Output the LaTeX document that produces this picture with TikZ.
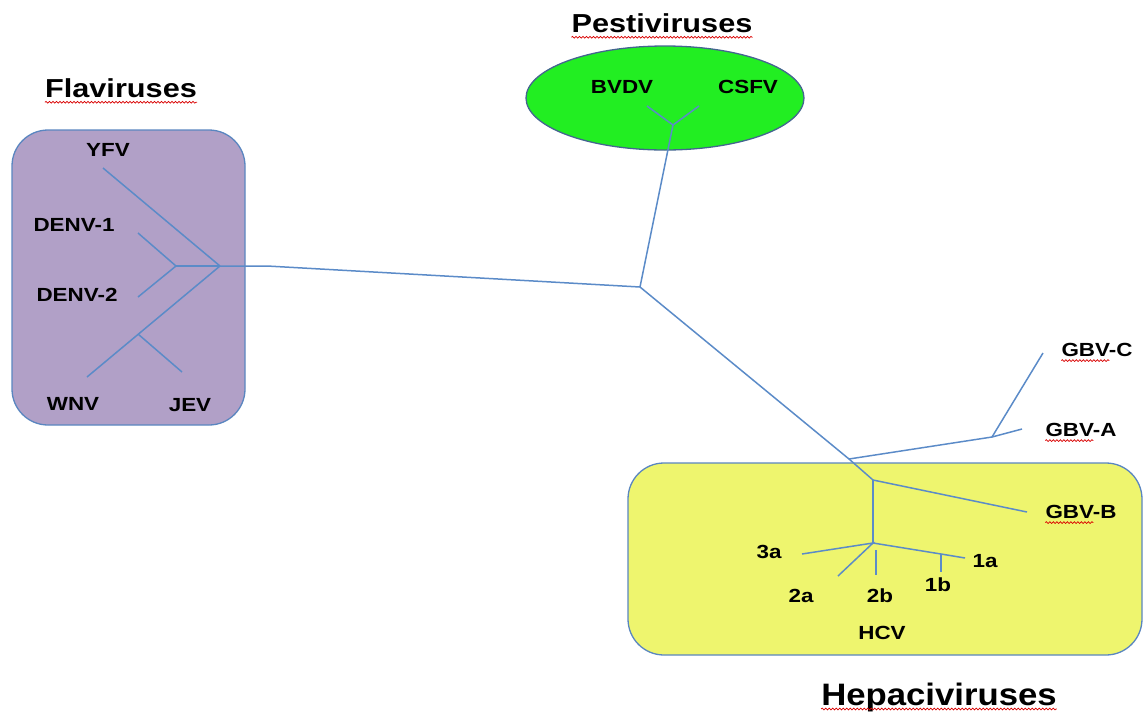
\documentclass[tikz,border=0pt]{standalone}
\usepackage{fontspec}
\usepackage{graphicx}
\setmainfont{Liberation Sans}
\usetikzlibrary{shapes.geometric,decorations.pathmorphing}
\definecolor{branch}{HTML}{5B8BC8}
\definecolor{boxline}{HTML}{5A86C0}
\definecolor{flavifill}{HTML}{B1A0C7}
\definecolor{pestifill}{HTML}{22EE22}
\definecolor{hepafill}{HTML}{EEF56E}
\newcommand{\wid}[1]{\scalebox{1.18}[1]{#1}}
\tikzset{
  br/.style={draw=branch, line width=1.5pt},
  lbl/.style={font=\fontsize{19}{20}\selectfont\bfseries, inner sep=0pt},
  ttl/.style={font=\fontsize{26}{28}\selectfont\bfseries, inner sep=0pt},
  wavy/.style={draw=red!85!black, line width=0.7pt, decorate, decoration={snake, amplitude=0.9pt, segment length=3.5pt}},
  grp/.style={draw=boxline, line width=1.3pt, rounded corners=36pt}
}
\begin{document}
\begin{tikzpicture}[x=1pt,y=-1pt]
\useasboundingbox (0,0) rectangle (1144,713);
% group shapes
\draw[grp, fill=flavifill] (12,130) rectangle (245,425);
\draw[grp, fill=hepafill] (628,463) rectangle (1142,655);
\node[ellipse, draw=boxline!75!black, line width=1.3pt, fill=pestifill, minimum width=278pt, minimum height=104pt, inner sep=0pt] (pesti) at (665,98) {};
% titles
\node[ttl] (tflavi) at (121,88) {\wid{Flaviruses}};
\node[ttl] (tpesti) at (662,23) {\wid{Pestiviruses}};
\node[ttl, font=\fontsize{31}{33}\selectfont\bfseries] (thepa) at (939,697) {\scalebox{1.12}[1]{Hepaciviruses}};
\draw[wavy] ([yshift=-5pt]tflavi.base west) -- ([yshift=-5pt]tflavi.base east);
\draw[wavy] ([yshift=-5pt]tpesti.base west) -- ([yshift=-5pt]tpesti.base east);
\draw[wavy] ([yshift=-4pt]thepa.base west) -- ([yshift=-4pt]thepa.base east);
% labels
\node[lbl] (YFV) at (108,150) {\wid{YFV}};
\node[lbl] (D1) at (74,225) {\wid{DENV-1}};
\node[lbl] (D2) at (77,295) {\wid{DENV-2}};
\node[lbl] (WNV) at (73,404) {\wid{WNV}};
\node[lbl] (JEV) at (190,405) {\wid{JEV}};
\node[lbl] (BVDV) at (622,87) {\wid{BVDV}};
\node[lbl] (CSFV) at (748,87) {\wid{CSFV}};
\node[lbl] (GBVC) at (1097,350) {\wid{GBV-C}};
\node[lbl] (GBVA) at (1081,430) {\wid{GBV-A}};
\node[lbl] (GBVB) at (1081,512) {\wid{GBV-B}};
\node[lbl] (l3a) at (769,552) {\wid{3a}};
\node[lbl] (l2a) at (801,596) {\wid{2a}};
\node[lbl] (l2b) at (880,596) {\wid{2b}};
\node[lbl] (l1b) at (938,585) {\wid{1b}};
\node[lbl] (l1a) at (985,561) {\wid{1a}};
\node[lbl] (HCV) at (882,633) {\wid{HCV}};
\draw[wavy] ([yshift=-4pt]GBVC.base west) -- ++(48,0);
\draw[wavy] ([yshift=-4pt]GBVA.base west) -- ++(48,0);
\draw[wavy] ([yshift=-4pt]GBVB.base west) -- ++(48,0);
% tree coordinates
\coordinate (fn) at (220,266);
\coordinate (fk) at (267,266);
\coordinate (dn) at (176,266);
\coordinate (tyfv) at (103,168);
\coordinate (td1) at (138,233);
\coordinate (td2) at (138,297);
\coordinate (twnv) at (87,377);
\coordinate (jn) at (138,334);
\coordinate (tjev) at (182,372);
\coordinate (c) at (640,287);
\coordinate (pn) at (673,125);
\coordinate (tbvdv) at (647,106);
\coordinate (tcsfv) at (699,106);
\coordinate (gj) at (849,459);
\coordinate (h) at (873,480);
\coordinate (tgbvb) at (1027,512);
\coordinate (gn) at (992,437);
\coordinate (tgbvc) at (1043,353);
\coordinate (tgbva) at (1022,429);
\coordinate (hn) at (873,543);
\coordinate (t3a) at (802,554);
\coordinate (t2a) at (838,576);
\coordinate (s2b) at (876,550);
\coordinate (t2b) at (876,575);
\coordinate (n1) at (941,554);
\coordinate (t1a) at (965,558);
\coordinate (t1b) at (941,572);
% branches
\draw[br] (tyfv) -- (fn);
\draw[br] (twnv) -- (fn);
\draw[br] (jn) -- (tjev);
\draw[br] (dn) -- (fn);
\draw[br] (td1) -- (dn) -- (td2);
\draw[br] (fn) -- (fk) -- (c);
\draw[br] (c) -- (pn);
\draw[br] (tbvdv) -- (pn) -- (tcsfv);
\draw[br] (c) -- (gj) -- (h) -- (tgbvb);
\draw[br] (gj) -- (gn) -- (tgbva);
\draw[br] (gn) -- (tgbvc);
\draw[br] (h) -- (hn);
\draw[br] (t3a) -- (hn) -- (t2a);
\draw[br] (s2b) -- (t2b);
\draw[br] (hn) -- (n1) -- (t1a);
\draw[br] (n1) -- (t1b);
\end{tikzpicture}
\end{document}
